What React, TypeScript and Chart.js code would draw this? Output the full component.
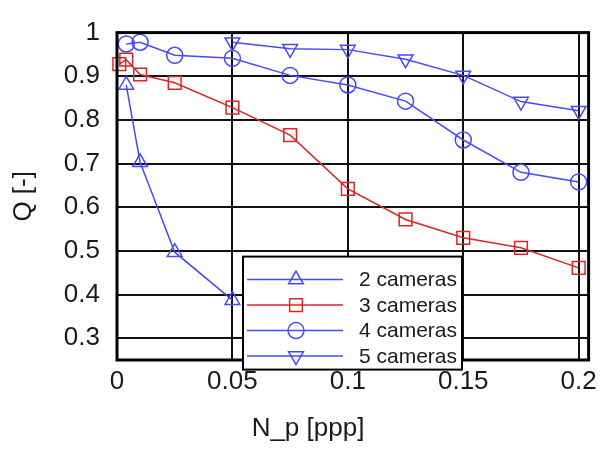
import React, { useEffect, useRef } from "react";
import { Chart, registerables } from "chart.js";

Chart.register(...registerables);

const cam2X = [0.004, 0.01, 0.025, 0.05];
const cam2Q = [0.88, 0.703, 0.497, 0.387];

const cam3X = [0.001, 0.004, 0.01, 0.025, 0.05, 0.075, 0.1, 0.125, 0.15, 0.175, 0.2];
const cam3Q = [0.928, 0.938, 0.904, 0.885, 0.828, 0.765, 0.642, 0.572, 0.53, 0.507, 0.461];

const cam4X = [0.004, 0.01, 0.025, 0.05, 0.075, 0.1, 0.125, 0.15, 0.175, 0.2];
const cam4Q = [0.974, 0.978, 0.948, 0.941, 0.902, 0.88, 0.843, 0.754, 0.68, 0.658];

const cam5X = [0.05, 0.075, 0.1, 0.125, 0.15, 0.175, 0.2];
const cam5Q = [0.978, 0.963, 0.961, 0.939, 0.902, 0.842, 0.821];

const seriesLabels = ["2 cameras", "3 cameras", "4 cameras", "5 cameras"];
const xTickValues = [0, 0.05, 0.1, 0.15, 0.2];
const yTickValues = [0.3, 0.4, 0.5, 0.6, 0.7, 0.8, 0.9, 1];
const xTitle = "N_p [ppp]";
const yTitle = "Q [-]";

const BLUE = "rgb(72,72,255)";
const RED = "rgb(222,36,36)";
const FONT = "'Liberation Sans', Arial, Helvetica, sans-serif";
const TEXT = "#1a1a1a";

type Marker = { style: string; rotation: number; radius: number; color: string };

function drawMarker(ctx: CanvasRenderingContext2D, m: Marker, x: number, y: number) {
  ctx.save();
  ctx.strokeStyle = m.color;
  ctx.lineWidth = 1.5;
  ctx.beginPath();
  const r = m.radius;
  if (m.style === "circle") {
    ctx.arc(x, y, r, 0, Math.PI * 2);
  } else if (m.style === "rect") {
    const s = r * Math.SQRT1_2;
    ctx.rect(x - s, y - s, 2 * s, 2 * s);
  } else {
    let a = (m.rotation * Math.PI) / 180;
    for (let i = 0; i < 3; i++) {
      const px = x + Math.sin(a) * r;
      const py = y - Math.cos(a) * r;
      if (i === 0) ctx.moveTo(px, py);
      else ctx.lineTo(px, py);
      a += (2 * Math.PI) / 3;
    }
    ctx.closePath();
  }
  ctx.stroke();
  ctx.restore();
}

const markers: Marker[] = [
  { style: "triangle", rotation: 0, radius: 8.5, color: BLUE },
  { style: "rect", rotation: 0, radius: 9, color: RED },
  { style: "circle", rotation: 0, radius: 8, color: BLUE },
  { style: "triangle", rotation: 180, radius: 8.5, color: BLUE },
];

const framePlugin = {
  id: "frame",
  afterDraw(chart: any) {
    const { ctx, chartArea: a } = chart;
    ctx.save();
    ctx.strokeStyle = "#000";
    ctx.lineWidth = 3;
    ctx.strokeRect(a.left, a.top, a.right - a.left, a.bottom - a.top);
    ctx.fillStyle = TEXT;
    ctx.font = `26px ${FONT}`;
    ctx.textAlign = "center";
    ctx.textBaseline = "middle";
    ctx.fillText(xTitle, 308, 429);
    ctx.restore();
  },
};

const legendPlugin = {
  id: "boxLegend",
  afterDraw(chart: any) {
    const { ctx, chartArea: a } = chart;
    const left = a.left + 126;
    const top = a.top + 224;
    const w = 219;
    const h = 113;
    ctx.save();
    ctx.fillStyle = "#fff";
    ctx.fillRect(left, top, w, h);
    ctx.strokeStyle = "#000";
    ctx.lineWidth = 2;
    ctx.strokeRect(left, top, w, h);
    chart.data.datasets.forEach((ds: any, i: number) => {
      const y = top + 23 + i * 25.5;
      ctx.strokeStyle = ds.borderColor;
      ctx.lineWidth = 1.5;
      ctx.beginPath();
      ctx.moveTo(left + 4, y);
      ctx.lineTo(left + 100, y);
      ctx.stroke();
      drawMarker(ctx, markers[i], left + 53, y);
      ctx.fillStyle = TEXT;
      ctx.font = `21px ${FONT}`;
      ctx.textBaseline = "middle";
      ctx.textAlign = "left";
      ctx.fillText(ds.label, left + 116, y + 1);
    });
    ctx.restore();
  },
};

export default function App() {
  const ref = useRef<HTMLCanvasElement | null>(null);

  useEffect(() => {
    document.body.style.margin = "0";
    if (!ref.current) return;
    const mk = (xs: number[], ys: number[]) => xs.map((x, i) => ({ x, y: ys[i] }));
    const datasets = [
      { data: mk(cam2X, cam2Q), color: BLUE },
      { data: mk(cam3X, cam3Q), color: RED },
      { data: mk(cam4X, cam4Q), color: BLUE },
      { data: mk(cam5X, cam5Q), color: BLUE },
    ].map((d, i) => ({
      label: seriesLabels[i],
      data: d.data,
      borderColor: d.color,
      backgroundColor: "rgba(0,0,0,0)",
      borderWidth: 1.5,
      pointStyle: markers[i].style,
      pointRotation: markers[i].rotation,
      pointRadius: markers[i].radius,
      pointBorderWidth: 1.5,
      pointBorderColor: d.color,
      pointBackgroundColor: "rgba(0,0,0,0)",
      tension: 0,
      clip: false as any,
    }));

    const chart = new Chart(ref.current, {
      type: "line",
      data: { datasets },
      options: {
        animation: false,
        responsive: false,
        layout: { padding: { left: 0, right: 12, top: 15, bottom: 0 } },
        plugins: {
          legend: { display: false },
          tooltip: { enabled: false },
        },
        scales: {
          x: {
            type: "linear",
            min: 0,
            max: 0.2043,
            afterBuildTicks: (s: any) => {
              s.ticks = xTickValues.map((v) => ({ value: v }));
            },
            afterFit: (s: any) => {
              s.height = 89;
            },
            grid: { color: "#111", lineWidth: 2, drawTicks: false },
            border: { display: false },
            ticks: {
              padding: 6,
              color: TEXT,
              font: { family: FONT, size: 26 },
              maxRotation: 0,
              callback: (v: any) => String(v),
            },
          },
          y: {
            type: "linear",
            min: 0.25,
            max: 1,
            afterBuildTicks: (s: any) => {
              s.ticks = yTickValues.map((v) => ({ value: v }));
            },
            afterFit: (s: any) => {
              s.width = 117;
            },
            grid: { color: "#111", lineWidth: 2, drawTicks: false },
            border: { display: false },
            title: {
              display: true,
              text: yTitle,
              color: TEXT,
              font: { family: FONT, size: 26 },
              padding: { top: 8, bottom: 0 },
            },
            ticks: {
              padding: 17,
              color: TEXT,
              font: { family: FONT, size: 26 },
              callback: (v: any) => String(v),
            },
          },
        },
      },
      plugins: [framePlugin, legendPlugin],
    });
    return () => chart.destroy();
  }, []);

  return (
    <div style={{ width: 603, height: 449 }}>
      <canvas ref={ref} width={603} height={449} />
    </div>
  );
}
